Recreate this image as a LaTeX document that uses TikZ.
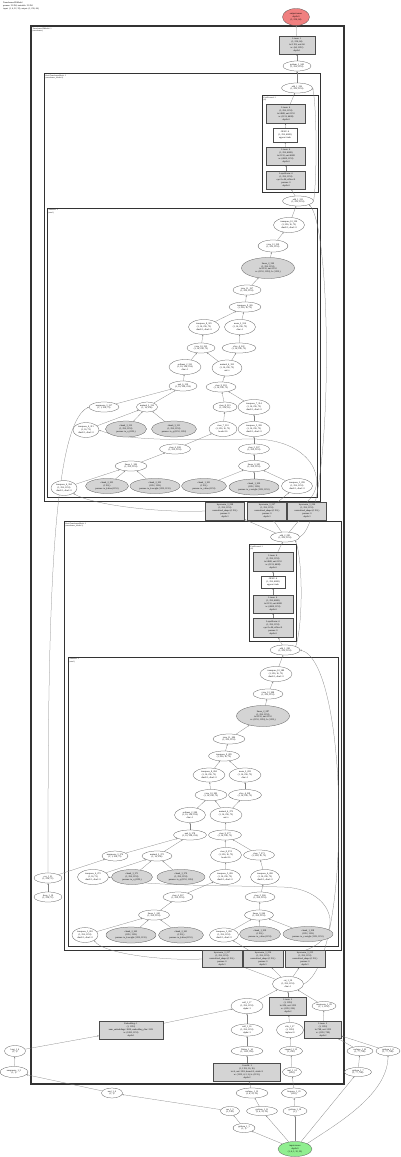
\documentclass[tikz,border=0pt]{standalone}
\usepackage{fontspec}
\setmainfont{Liberation Serif}
\usetikzlibrary{arrows.meta,shapes.geometric}
\pgfdeclarelayer{bg}
\pgfsetlayers{bg,main}
\definecolor{outred}{HTML}{F08080}
\definecolor{ingreen}{HTML}{90EE90}

\begin{document}
\begin{tikzpicture}[x=1pt, y=-1pt, >={Stealth[length=1.6pt, width=1.3pt]},
  every node/.style={font=\fontsize{2.3}{2.8}\selectfont, align=center, inner sep=0pt},
  op/.style 2 args={ellipse, draw=black!70, line width=0.25pt, fill=white,
    minimum width=#1pt, minimum height=#2pt},
  opg/.style 2 args={op={#1}{#2}, fill=black!17},
  mod/.style 2 args={rectangle, draw=black!70, line width=0.25pt, fill=black!17,
    minimum width=#1pt, minimum height=#2pt},
  modw/.style 2 args={mod={#1}{#2}, fill=white},
  clus/.style={draw=black!80, line width=0.7pt},
  lbl/.style={anchor=north west, align=left, font=\fontsize{1.9}{2.2}\selectfont},
  flow/.style={->, draw=black!50, line width=0.25pt}]
  \useasboundingbox (0,0) rectangle (400,1157);

  \node[lbl, font=\fontsize{2.2}{2.7}\selectfont] (title) at (3,2)
    {Transformer2DModel\\params: 33.2M, trainable: 33.2M\\input: (1, 4, 32, 32), output: (1, 256, 64)};

  % cluster labels
  \node[lbl] (tOuter) at (32.5,27.5) {Transformer2DModel: 1\\(transformer)};
  \node[lbl] (tA) at (45.5,74.5) {BasicTransformerBlock: 2\\(transformer\_blocks.0)};
  \node[lbl] (tC) at (263.5,96.5) {FeedForward: 3\\(ff)};
  \node[lbl] (tB) at (48.5,209.5) {Attention: 3\\(attn1)};
  \node[lbl] (tD) at (65.5,522.5) {BasicTransformerBlock: 2\\(transformer\_blocks.1)};
  \node[lbl] (tF) at (250.5,545.5) {FeedForward: 3\\(ff)};
  \node[lbl] (tE) at (69.5,658.5) {Attention: 3\\(attn1)};

  % output side
  \node[op={27}{17}, fill=outred] (out) at (296,17) {output-tensor\\depth:0\\(1, 256, 64)};
  \node[mod={36}{18}] (lin0) at (297,45) {Linear: 1\\(1, 256, 64)\\in=1152, out=64\\w: (64, 1152)\\depth:1};
  \node[op={28}{10}] (gi0) at (297,66) {getitem\_1\_340\\(1, 256, 1152)};

  % block 0
  \node[op={31}{10}] (aout) at (297,88) {add\_1\_336\\(1, 256, 1152)};
  \node[mod={39}{19}] (cfc2) at (286,114) {Linear: 4\\(1, 256, 1152)\\in=4608, out=1152\\w: (1152, 4608)\\depth:4};
  \node[modw={24}{14}] (cact) at (285,135) {GELU: 4\\(1, 256, 4608)\\approx=tanh};
  \node[mod={39}{18}] (cfc1) at (286,156) {Linear: 4\\(1, 256, 4608)\\in=1152, out=4608\\w: (4608, 1152)\\depth:4};
  \node[mod={39}{18}] (cnorm) at (286,180) {LayerNorm: 4\\(1, 256, 1152)\\eps=1e-06, affine=0\\params: 0\\depth:4};
  \node[op={31}{10}] (ares) at (298,201) {add\_1\_331\\(1, 256, 1152)};

  \node[op={31}{15}] (btr) at (289,225) {transpose\_10\_330\\(1, 256, 16, 72)\\dim0=1, dim1=2};
  \node[op={30}{12}] (bview) at (273,246) {view\_12\_329\\(1, 256, 1152)};
  \node[opg={53}{21}] (bproj) at (268,268) {linear\_2\_328\\(1, 256, 1152)\\in=1152, out=1152\\w: (1152, 1152), b: (1152,)};
  \node[op={28}{10}] (bview2) at (247,290) {view\_11\_327\\(1, 256, 1152)};
  \node[op={32}{10}] (btr2) at (245,307) {transpose\_9\_326\\(1, 256, 16, 72)};
  \node[op={31}{15}] (ba1) at (204,327) {transpose\_8\_325\\(1, 16, 256, 72)\\dim0=1, dim1=2};
  \node[op={31}{15}] (ba2) at (240,327) {mean\_2\_324\\(1, 16, 256, 72)\\dim=-1};
  \node[op={28}{10}] (bb1) at (201,348) {view\_10\_323\\(1, 16, 256, 72)};
  \node[op={34}{10}] (bb2) at (239,348) {slice\_4\_322\\(1, 16, 256, 72)};
  \node[op={32}{15}] (bc1) at (185,367) {softmax\_2\_321\\(1, 16, 256, 256)\\dim=-1};
  \node[op={30}{16}] (bc2) at (227,368) {matmul\_4\_320\\(1, 16, 256, 72)\\out=v};
  \node[op={28}{10}] (bd1) at (183,386) {mul\_6\_319\\(1, 16, 256, 256)};
  \node[op={30}{10}] (bd2) at (221,387) {view\_9\_318\\(1, 16, 256, 72)};
  \node[op={30}{10}] (be1) at (104,407) {unsqueeze\_3\_317\\(1, 1, 256, 72)};
  \node[op={21}{10}] (be2) at (147,407) {matmul\_3\_316\\(1, 16, 256)};
  \node[op={24}{10}] (be3) at (225,407) {view\_8\_315\\(1, 256, 16)};
  \node[op={32}{15}] (be4) at (254,407) {transpose\_7\_314\\(1, 16, 256, 72)\\dim0=1, dim1=2};
  \node[op={26}{15}] (bf1) at (86,430) {transpose\_6\_313\\(1, 16, 72)\\dim0=1, dim1=2};
  \node[opg={41}{16}] (bf2) at (126,429) {chunk\_3\_312\\(1, 256, 1152)\\params: to\_q (1152,)};
  \node[opg={45}{16}] (bf3) at (174,429) {chunk\_3\_311\\(1, 256, 1152)\\params: to\_q (1152, 1152)};
  \node[op={28}{15}] (bf4) at (223,429) {view\_7\_310\\(1, 256, 16, 72)\\heads=16};
  \node[op={32}{15}] (bf5) at (254,429) {transpose\_5\_309\\(1, 16, 256, 72)\\dim0=1, dim1=2};
  \node[op={31}{10}] (bg1) at (175,449) {view\_6\_308\\(1, 256, 1152)};
  \node[op={31}{10}] (bg2) at (254,449) {view\_5\_307\\(1, 256, 1152)};
  \node[op={32}{10}] (bh1) at (131,466) {linear\_1\_306\\(1, 256, 1152)};
  \node[op={31}{11}] (bh2) at (254,466) {linear\_0\_305\\(1, 256, 1152)};
  \node[op={26}{15}] (bi1) at (64,488) {transpose\_4\_304\\(1, 256, 1152)\\dim0=1, dim1=2};
  \node[opg={43}{15}] (bi2) at (107,486) {chunk\_2\_303\\(1152,)\\params: to\_k.bias (1152)};
  \node[opg={50}{15}] (bi3) at (155,486) {chunk\_2\_302\\(1152, 1152)\\params: to\_k.weight (1152, 1152)};
  \node[opg={45}{15}] (bi4) at (204,486) {chunk\_1\_301\\(1152,)\\params: to\_v.bias (1152)};
  \node[opg={50}{16}] (bi5) at (254,487) {chunk\_1\_300\\(1152, 1152)\\params: to\_v.weight (1152, 1152)};
  \node[op={31}{15}] (bi6) at (297,486) {transpose\_3\_299\\(1, 256, 1152)\\dim0=1, dim1=2};

  \node[mod={39}{18}] (ln1) at (225,511) {layernorm\_3\_298\\(1, 256, 1152)\\normalized\_shape=(1152,)\\params: 0\\depth:3};
  \node[mod={39}{18}] (ln2) at (267,511) {layernorm\_3\_297\\(1, 256, 1152)\\normalized\_shape=(1152,)\\params: 0\\depth:3};
  \node[mod={39}{18}] (ln3) at (307,511) {layernorm\_3\_296\\(1, 256, 1152)\\normalized\_shape=(1152,)\\params: 0\\depth:3};
  \node[op={29}{10}] (add2) at (285,537) {add\_2\_295\\(1, 256, 1152)};

  % block 1
  \node[mod={40}{19}] (ffc2) at (273,562) {Linear: 4\\(1, 256, 1152)\\in=4608, out=1152\\w: (1152, 4608)\\depth:4};
  \node[modw={24}{12}] (fact) at (273,582) {GELU: 4\\(1, 256, 4608)\\approx=tanh};
  \node[mod={40}{18}] (ffc1) at (273,604) {Linear: 4\\(1, 256, 4608)\\in=1152, out=4608\\w: (4608, 1152)\\depth:4};
  \node[mod={40}{19}] (fnorm) at (273,628) {LayerNorm: 4\\(1, 256, 1152)\\eps=1e-06, affine=0\\params: 0\\depth:4};
  \node[op={30}{10}] (add3) at (285,650) {add\_1\_290\\(1, 256, 1152)};

  \node[op={32}{15}] (etr) at (276,674) {transpose\_10\_289\\(1, 256, 16, 72)\\dim0=1, dim1=2};
  \node[op={30}{10}] (eview) at (268,694) {view\_12\_288\\(1, 256, 1152)};
  \node[opg={53}{21}] (eproj) at (263,716) {linear\_2\_287\\(1, 256, 1152)\\in=1152, out=1152\\w: (1152, 1152), b: (1152,)};
  \node[op={32}{10}] (eview2) at (229,739) {view\_11\_286\\(1, 256, 1152)};
  \node[op={31}{10}] (etr2) at (224,756) {transpose\_9\_285\\(1, 256, 16, 72)};
  \node[op={32}{14}] (ea1) at (209,775) {transpose\_8\_284\\(1, 16, 256, 72)\\dim0=1, dim1=2};
  \node[op={32}{14}] (ea2) at (245,775) {mean\_2\_283\\(1, 16, 256, 72)\\dim=-1};
  \node[op={32}{11}] (eb1) at (211,795) {view\_10\_282\\(1, 16, 256, 72)};
  \node[op={33}{11}] (eb2) at (245,795) {slice\_4\_281\\(1, 16, 256, 72)};
  \node[op={31}{15}] (ec1) at (190,815) {softmax\_2\_280\\(1, 16, 256, 256)\\dim=-1};
  \node[op={32}{15}] (ec2) at (226,815) {matmul\_4\_279\\(1, 16, 256, 72)\\out=v};
  \node[op={33}{10}] (ed1) at (190,835) {mul\_6\_278\\(1, 16, 256, 256)};
  \node[op={33}{10}] (ed2) at (225,835) {view\_9\_277\\(1, 16, 256, 72)};
  \node[op={26}{10}] (ee1) at (115,856) {unsqueeze\_3\_276\\(1, 1, 256, 72)};
  \node[op={30}{10}] (ee2) at (157,856) {matmul\_3\_275\\(1, 16, 256)};
  \node[op={31}{15}] (ee3) at (226,855) {view\_8\_274\\(1, 256, 16, 72)\\heads=16};
  \node[op={31}{10}] (ee4) at (259,855) {view\_7\_273\\(1, 256, 16, 72)};
  \node[op={31}{15}] (ef1) at (93,877) {transpose\_6\_272\\(1, 16, 72)\\dim0=1, dim1=2};
  \node[opg={41}{15}] (ef2) at (132,877) {chunk\_3\_271\\(1, 256, 1152)\\params: to\_q (1152,)};
  \node[opg={48}{15}] (ef3) at (181,877) {chunk\_3\_270\\(1, 256, 1152)\\params: to\_q (1152, 1152)};
  \node[op={31}{15}] (ef4) at (225,877) {transpose\_5\_269\\(1, 16, 256, 72)\\dim0=1, dim1=2};
  \node[op={29}{15}] (ef5) at (265,877) {transpose\_4\_268\\(1, 16, 256, 72)\\dim0=1, dim1=2};
  \node[op={30}{10}] (eg1) at (178,897) {view\_6\_267\\(1, 256, 1152)};
  \node[op={30}{10}] (eg2) at (260,897) {view\_5\_266\\(1, 256, 1152)};
  \node[op={31}{10}] (eh1) at (154,915) {linear\_1\_265\\(1, 256, 1152)};
  \node[op={29}{10}] (eh2) at (259,915) {linear\_0\_264\\(1, 256, 1152)};
  \node[op={26}{15}] (ei1) at (85,935) {transpose\_3\_263\\(1, 256, 1152)\\dim0=1, dim1=2};
  \node[opg={50}{16}] (ei2) at (131,935) {chunk\_2\_262\\(1152, 1152)\\params: to\_k.weight (1152, 1152)};
  \node[opg={45}{16}] (ei3) at (181,935) {chunk\_2\_261\\(1152,)\\params: to\_k.bias (1152)};
  \node[op={29}{14}] (ei4) at (224,935) {transpose\_2\_260\\(1, 256, 1152)\\dim0=1, dim1=2};
  \node[opg={41}{15}] (ei5) at (260,934) {chunk\_1\_259\\(1152,)\\params: to\_v.bias (1152)};
  \node[opg={50}{15}] (ei6) at (308,934) {chunk\_1\_258\\(1152, 1152)\\params: to\_v.weight (1152, 1152)};

  \node[mod={40}{17}] (ln1p) at (222,959) {layernorm\_3\_257\\(1, 256, 1152)\\normalized\_shape=(1152,)\\params: 0\\depth:3};
  \node[mod={40}{17}] (ln2p) at (263,959) {layernorm\_3\_256\\(1, 256, 1152)\\normalized\_shape=(1152,)\\params: 0\\depth:3};
  \node[mod={40}{17}] (ln3p) at (305,959) {layernorm\_3\_255\\(1, 256, 1152)\\normalized\_shape=(1152,)\\params: 0\\depth:3};
  \node[op={31}{15}] (cat) at (288,984) {cat\_1\_30\\(1, 256, 1152)\\dim=-1};

  % embeddings
  \node[op={32}{15}] (n1006a) at (247,1006) {add\_1\_17\\(1, 256, 1152)\\alpha=1};
  \node[mod={37}{18}] (bx1006) at (288,1006) {Linear: 2\\(1, 1152)\\in=256, out=1152\\w: (1152, 256)\\depth:2};
  \node[op={24}{9}] (n1006c) at (324,1006) {unsqueeze\_1\_28\\(1, 1, 1152)};
  \node[op={32}{12}] (n1030a) at (247,1030) {add\_1\_16\\(1, 256, 1152)\\alpha=1};
  \node[op={27}{15}] (n1030b) at (290,1030) {silu\_1\_27\\(1, 1152)\\inplace=0};
  \node[mod={37}{17}] (bx1030) at (323,1030) {Linear: 2\\(1, 1152)\\in=768, out=1152\\w: (1152, 768)\\depth:2};
  \node[op={32}{9}] (n1051a) at (247,1051) {flatten\_1\_14\\(1, 1152, 256)};
  \node[op={23}{9}] (n1051b) at (291,1051) {expand\_1\_25\\(1, 256)};
  \node[op={26}{9}] (n1051c) at (360,1051) {reshape\_1\_22\\(1, 77, 768)};
  \node[op={24}{9}] (n1051d) at (388,1051) {getitem\_1\_8\\(1, 77, 768)};
  \node[mod={67}{18}] (bx1072) at (247,1072) {Conv2d: 2\\(1, 1152, 16, 16)\\in=4, out=1152, kernel=2, stride=2\\w: (1152, 4, 2, 2), b: (1152,)\\depth:2};
  \node[op={19}{9}] (n1072b) at (292,1072) {mul\_1\_24\\(256,)};
  \node[op={27}{9}] (n1072c) at (358,1072) {getitem\_1\_7\\(1, 77, 768)};
  \node[op={32}{10}] (n1093a) at (252,1093) {reshape\_1\_12\\(1, 4, 32, 32)};
  \node[op={25}{10}] (n1093b) at (294,1093) {linspace\_1\_23\\(256,)};
  \node[op={19}{9}] (n1111a) at (230,1111) {cos\_1\_5\\(1, 128)};
  \node[op={31}{9}] (n1111b) at (262,1111) {getitem\_1\_11\\(1, 4, 32, 32)};
  \node[op={24}{9}] (n1111c) at (295,1111) {getitem\_1\_10\\(1,)};
  \node[op={22}{9}] (n1128) at (244,1128) {getitem\_1\_3\\(1, 1)};
  \node[op={34}{15}, fill=ingreen] (inp) at (295,1149) {input-tensor\\depth:0\\(1, 4, 1, 32, 32)};

  \node[op={28}{10}] (lf1) at (48,878) {cos\_1\_21\\(1, 256, 72)};
  \node[op={28}{10}] (lf2) at (48,897) {freqs\_1\_19\\(1, 256, 72)};
  \node[mod={64}{18}] (emb) at (131,1030) {Embedding: 1\\(1, 1152)\\num\_embeddings=1000, embedding\_dim=1152\\w: (1000, 1152)\\depth:1};
  \node[op={21}{11}] (long) at (15,1051) {long\_1\_6\\(1, 1)};
  \node[op={28}{11}] (unsq) at (14,1072) {unsqueeze\_1\_5\\(1, 1)};
  \node[op={21}{10}] (mul) at (112,1093) {mul\_1\_4\\(1, 1)};

  \begin{pgfonlayer}{bg}
    \fill[white] (0,0) rectangle (400,1157);
    \draw[clus, line width=1.1pt] (31,26) rectangle (344,1084);
    \draw[clus] (44,73) rectangle (320,501);
    \draw[clus] (262,95) rectangle (318,192);
    \draw[clus] (47,208) rectangle (317,497);
    \draw[clus] (64,521) rectangle (341,950);
    \draw[clus] (249,544) rectangle (296,641);
    \draw[clus] (68,657) rectangle (338,946);

    \foreach \a/\b in {gi0/lin0, lin0/out, aout/gi0, cfc2/aout, cact/cfc2, cfc1/cact,
      cnorm/cfc1, ares/cnorm, btr/ares, bview/btr, bproj/bview, bview2/bproj,
      btr2/bview2, ba1/btr2, ba2/btr2, bb1/ba1, bb2/ba2, bc1/bb1, bc2/bb1, bc2/bb2,
      bd1/bc1, bd2/bc2, be1/bd1, be2/bd1, be3/bd2, be4/bd2, bf1/be2, bf2/be2, bf3/be2,
      bf4/be3, bf5/be4, bg1/bf4, bg2/bf5, bh1/bg1, bh2/bg2, bi1/bh1, bi2/bh1, bi3/bh1,
      bi4/bh2, bi5/bh2, bi6/bh2, ln2/bi6, add2/ln1, add2/ln2, add2/ln3,
      ffc2/add2, fact/ffc2, ffc1/fact, fnorm/ffc1, add3/fnorm,
      etr/add3, eview/etr, eproj/eview, eview2/eproj, etr2/eview2, ea1/etr2, ea2/etr2,
      eb1/ea1, eb2/ea2, ec1/eb1, ec2/eb1, ec2/eb2, ed1/ec1, ed2/ec2, ee1/ed1, ee2/ed1,
      ee3/ed2, ee4/ed2, ef1/ee2, ef2/ee2, ef3/ee2, ef4/ee3, ef5/ee4, eg1/ef4, eg2/ef5,
      eh1/eg1, eh2/eg2, ei1/eh1, ei2/eh1, ei3/eh1, ei4/eh2, ei5/eh2, ei6/eh2,
      ln2p/ei4, cat/ln1p, cat/ln2p, cat/ln3p, lf2/lf1, lf1/ee1,
      n1006a/cat, bx1006/cat, n1006c/cat, n1030a/n1006a, n1030b/bx1006, bx1030/n1006c,
      n1051a/n1030a, n1051b/n1030b, n1051c/bx1030, n1051d/bx1030, bx1072/n1051a,
      n1072b/n1051b, n1072c/n1051c, n1093a/bx1072, n1093b/n1072b, n1111b/n1093a,
      n1111c/n1093b, n1128/n1111a, inp/n1128, inp/n1111b, inp/n1111c, inp/n1072c,
      n1111a/mul, mul/unsq, unsq/long, long/emb, emb/n1006a}
      \draw[flow] (\a) -- (\b);

    % residual and long connectors
    \draw[flow] (ares.east) .. controls (317,180) and (317,108) .. (aout.east);
    \draw[flow] (add2.east) .. controls (334,520) and (333,228) .. (ares.south east);
    \draw[flow] (add3.north east) .. controls (303,625) and (303,560) .. (add2.south east);
    \draw[flow] (cat.east) .. controls (352,962) and (350,662) .. (add3.east);
    \draw[flow] (ln1.west) .. controls (160,513) and (92,505) .. (bi1.south east);
    \draw[flow] (ln3.north) .. controls (330,482) and (312,438) .. (250,439)
      .. controls (180,440) and (125,441) .. (bf1.east);
    \draw[flow] (ln1p.west) .. controls (160,961) and (102,953) .. (ei1.south east);
    \draw[flow] (ln3p.north) .. controls (348,935) and (333,888) .. (282,887)
      .. controls (210,885) and (135,886) .. (ef1.east);
    \draw[flow] (lf1.north) .. controls (48,650) and (49,425) .. (be1.west);
    \draw[flow] (inp.north east) .. controls (335,1125) and (388,1095) .. (n1051d.south);
  \end{pgfonlayer}
\end{tikzpicture}
\end{document}
